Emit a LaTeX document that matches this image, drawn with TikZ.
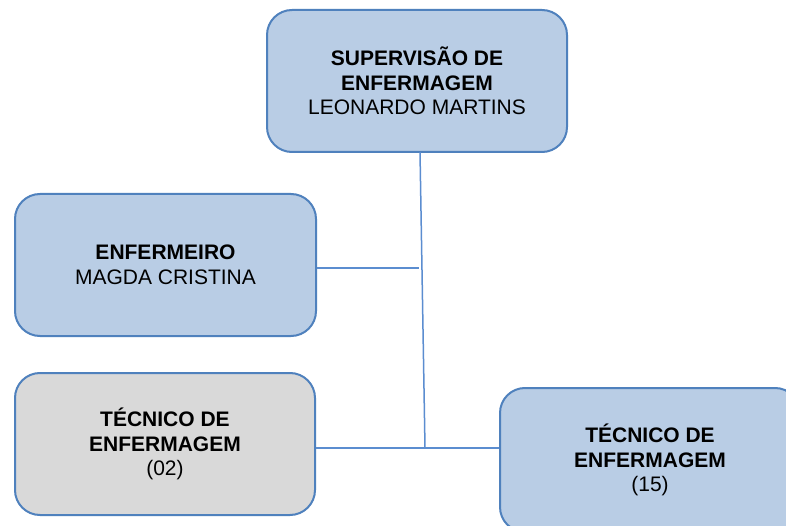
\documentclass[tikz,border=0pt]{standalone}
\usepackage{fontspec}
\setmainfont{Liberation Sans}
\definecolor{boxblue}{HTML}{B9CDE5}
\definecolor{boxgray}{HTML}{D9D9D9}
\definecolor{edgeblue}{HTML}{4F81BD}
\definecolor{lineblue}{HTML}{5B8DD0}
\begin{document}
\begin{tikzpicture}[x=1pt,y=-1pt,
  orgbox/.style={draw=edgeblue,line width=2pt,rounded corners=25pt,fill=boxblue,
    minimum width=300pt,minimum height=142pt,align=center,inner sep=0pt,
    font=\fontsize{21}{24.5}\selectfont},
  graybox/.style={orgbox,fill=boxgray},
  conn/.style={draw=lineblue,line width=1.5pt}]
\useasboundingbox (0,0) rectangle (786,526);
\fill[white] (0,0) rectangle (786,526);
\clip (0,0) rectangle (786,526);
\node[orgbox] (sup) at (417,81) {\textbf{SUPERVISÃO DE}\\\textbf{ENFERMAGEM}\\LEONARDO MARTINS};
\node[orgbox,minimum width=301pt] (enf) at (165.5,265) {\textbf{ENFERMEIRO}\\MAGDA CRISTINA};
\node[graybox] (tec2) at (165,444) {\textbf{TÉCNICO DE}\\\textbf{ENFERMAGEM}\\(02)};
\node[orgbox,minimum height=144pt] (tec15) at (650,460) {\textbf{TÉCNICO DE}\\\textbf{ENFERMAGEM}\\(15)};
\coordinate (vtop) at (420,152);
\coordinate (vmid) at (419,268);
\coordinate (vbot) at (425,448);
\draw[conn] (vtop) -- (vbot);
\draw[conn] (vmid -| enf.east) -- (vmid);
\draw[conn] (vbot -| tec2.east) -- (vbot -| tec15.west);
\end{tikzpicture}
\end{document}
